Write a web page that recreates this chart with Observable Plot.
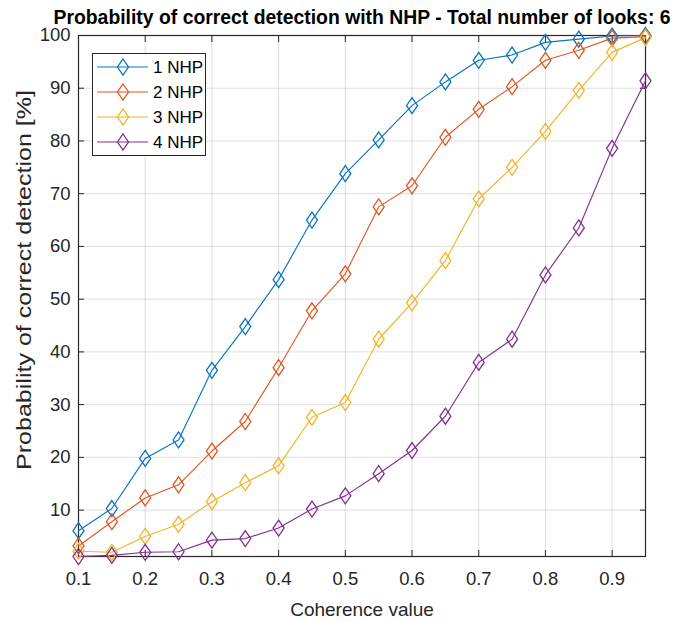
<!DOCTYPE html>
<html>
<head>
<meta charset="utf-8">
<script src="https://cdn.jsdelivr.net/npm/d3@7"></script>
<script src="https://cdn.jsdelivr.net/npm/@observablehq/plot@0.6"></script>
<style>
  html, body { margin: 0; padding: 0; background: #fff; }
  #wrap { position: relative; width: 683px; height: 622px; }
  #legend { position: absolute; left: 92px; top: 53px; width: 114px; height: 103px;
            border: 1px solid #262626; background: #fff; box-sizing: border-box; }
</style>
</head>
<body>
<div id="wrap"><div id="chart"></div><div id="legend"></div></div>
<script>
const coherence = [0.1, 0.15, 0.2, 0.25, 0.3, 0.35, 0.4, 0.45, 0.5, 0.55, 0.6, 0.65, 0.7, 0.75, 0.8, 0.85, 0.9, 0.95];
const nhp1 = [6.1, 10.3, 19.8, 23.3, 36.5, 44.8, 53.7, 65.0, 73.8, 80.2, 86.7, 91.2, 95.3, 96.3, 98.7, 99.3, 99.9, 100];
const nhp2 = [3.2, 7.8, 12.3, 14.8, 21.2, 26.8, 37.0, 47.8, 54.8, 67.5, 71.5, 80.7, 86.0, 90.3, 95.3, 97.2, 99.5, 99.8];
const nhp3 = [2.2, 2.0, 5.0, 7.3, 11.6, 15.2, 18.4, 27.6, 30.4, 42.4, 49.3, 57.3, 69.0, 75.0, 81.8, 89.6, 96.8, 99.6];
const nhp4 = [1.2, 1.4, 2.0, 2.1, 4.3, 4.6, 6.6, 10.2, 12.7, 16.9, 21.3, 27.8, 38.0, 42.4, 54.6, 63.5, 78.6, 91.4];
const seriesNames = ["1 NHP", "2 NHP", "3 NHP", "4 NHP"];
const seriesColors = ["#0A74C2", "#DE5722", "#F3B324", "#82308F"];
const xTicks = [0.1, 0.2, 0.3, 0.4, 0.5, 0.6, 0.7, 0.8, 0.9];
const yTicks = [10, 20, 30, 40, 50, 60, 70, 80, 90, 100];
const titleText = "Probability of correct detection with NHP - Total number of looks: 6";
const xLabel = "Coherence value";
const yLabel = "Probability of correct detection [%]";

const allSeries = [nhp1, nhp2, nhp3, nhp4];
const data = [];
allSeries.forEach((vals, i) => vals.forEach((v, j) => data.push({x: coherence[j], y: v, s: seriesNames[i]})));

const diamond = {
  draw(ctx) {
    const w = 5.5, h = 8;
    ctx.moveTo(0, -h); ctx.lineTo(w, 0); ctx.lineTo(0, h); ctx.lineTo(-w, 0); ctx.closePath();
  }
};

const axisColor = "#262626";
const font = "'Liberation Sans', Arial, Helvetica, sans-serif";

const chart = Plot.plot({
  width: 683, height: 622,
  marginLeft: 78, marginRight: 38, marginTop: 35, marginBottom: 66,
  style: {fontFamily: font, background: "white", color: axisColor, overflow: "visible"},
  x: {domain: [0.1, 0.95]},
  y: {domain: [1.2, 100]},
  color: {domain: seriesNames, range: seriesColors},
  marks: [
    Plot.gridX(xTicks, {stroke: axisColor, strokeOpacity: 0.15, strokeWidth: 1}),
    Plot.gridY(yTicks, {stroke: axisColor, strokeOpacity: 0.15, strokeWidth: 1}),
    Plot.axisX(xTicks, {anchor: "bottom", tickSize: -6, tickPadding: 21, fontSize: 18.5, label: null, tickFormat: d => d.toFixed(1), stroke: axisColor}),
    Plot.axisX(xTicks, {anchor: "top", tickSize: -6, tickFormat: () => "", label: null, stroke: axisColor}),
    Plot.axisY(yTicks, {anchor: "left", tickSize: -6, tickPadding: 14, fontSize: 18.5, label: null, stroke: axisColor}),
    Plot.axisY(yTicks, {anchor: "right", tickSize: -6, tickFormat: () => "", label: null, stroke: axisColor}),
    Plot.frame({stroke: axisColor, strokeWidth: 1.2}),
    Plot.line(data, {x: "x", y: "y", z: "s", stroke: "s", strokeWidth: 1.15}),
    Plot.dot(data, {x: "x", y: "y", stroke: "s", fill: "none", symbol: diamond, r: 6, strokeWidth: 1.3}),
    Plot.text([titleText], {frameAnchor: "top", lineAnchor: "bottom", dy: -12, fontSize: 19.5, fontWeight: "bold", fill: "#000", className: "ttl"}),
    Plot.text([xLabel], {frameAnchor: "bottom", lineAnchor: "bottom", dy: 59, fontSize: 19, fill: axisColor}),
    Plot.text([yLabel], {frameAnchor: "left", textAnchor: "middle", lineAnchor: "bottom", rotate: -90, dx: -48, dy: -16, fontSize: 20, fill: axisColor, className: "ylab"})
  ]
});
document.getElementById("chart").appendChild(chart);

// the reference text is horizontally condensed / vertically stretched
const t = chart.querySelector(".ttl text");
if (t) { t.setAttribute("textLength", 617); t.setAttribute("lengthAdjust", "spacingAndGlyphs"); }
const yl = chart.querySelector(".ylab text");
if (yl) { yl.setAttribute("textLength", 380); yl.setAttribute("lengthAdjust", "spacingAndGlyphs"); }

// legend
const lg = d3.select("#legend").append("svg").attr("width", 112).attr("height", 101)
  .style("font-family", font);
seriesNames.forEach((name, i) => {
  const cy = 13 + i * 25;
  const g = lg.append("g").attr("transform", `translate(0,${cy})`);
  g.append("line").attr("x1", 4).attr("x2", 55).attr("y1", 0).attr("y2", 0)
    .attr("stroke", seriesColors[i]).attr("stroke-width", 1.15);
  g.append("path").attr("d", "M30,-8L35.5,0L30,8L24.5,0Z").attr("fill", "none")
    .attr("stroke", seriesColors[i]).attr("stroke-width", 1.3);
  g.append("text").attr("x", 60).attr("y", 6).attr("font-size", 17).attr("fill", "#000").text(name);
});
</script>
</body>
</html>
